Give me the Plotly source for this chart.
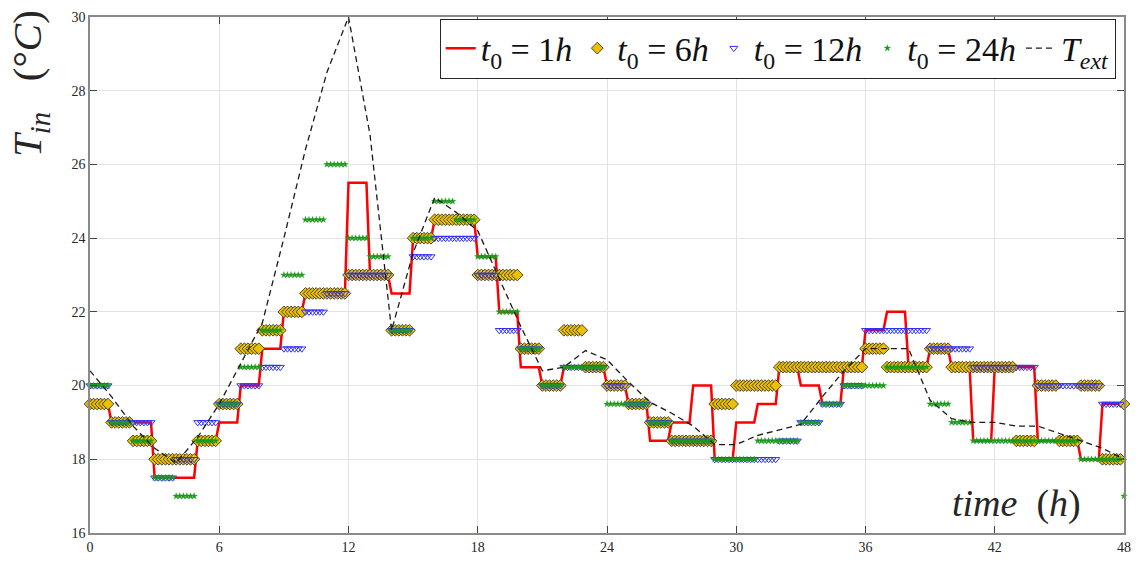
import numpy as np
import plotly.graph_objects as go

# Hourly values (value held during hour h, h = 0..47), last entry = value sampled at t = 48 h
hours = list(range(49))

t0_1h = [19.5, 19, 19, 17.5, 17.5, 18.5, 19, 20, 21, 22,
         22.5, 22.5, 25.5, 23, 22.5, 24, 24.5, 24.5, 23.5, 22,
         20.5, 20, 20.5, 20.5, 20, 19.5, 18.5, 19, 20, 18,
         19, 19.5, 20.5, 20, 19.5, 20.5, 21.5, 22, 20.5, 21,
         20.5, 18.5, 20.5, 20.5, 18.5, 18.5, 18, 19.5, 19.5]

t0_6h = [19.5, 19, 18.5, 18, 18, 18.5, 19.5, 21, 21.5, 22,
         22.5, 22.5, 23, 23, 21.5, 24, 24.5, 24.5, 23, 23,
         21, 20, 21.5, 20.5, 20, 19.5, 19, 18.5, 18.5, 19.5,
         20, 20, 20.5, 20.5, 20.5, 20.5, 21, 20.5, 20.5, 21,
         20.5, 20.5, 20.5, 18.5, 20, 18.5, 20, 18, 19.5]

t0_12h = [20, 19, 19, 17.5, 18, 19, 19.5, 20, 20.5, 21,
          22, 22.5, 23, 23, 21.5, 23.5, 24, 24, 23, 21.5,
          21, 20, 20.5, 20.5, 20, 19.5, 19, 18.5, 18.5, 18,
          18, 18, 18.5, 19, 19.5, 20, 21.5, 21.5, 21.5, 21,
          21, 20.5, 20.5, 20.5, 20, 20, 20, 19.5, None]

t0_24h = [20, 19, 18.5, 17.5, 17, 18.5, 19.5, 20.5, 21.5, 23,
          24.5, 26, 24, 23.5, 21.5, 24, 25, 24.5, 23.5, 22,
          21, 20, 20.5, 20.5, 19.5, 19.5, 19, 18.5, 18.5, 18,
          18, 18.5, 18.5, 19, 19.5, 20, 20, 20.5, 20.5, 19.5,
          19, 18.5, 18.5, 18.5, 18.5, 18.5, 18, 18, 17]

T_ext = [20.4, 19.7, 18.9, 18.3, 17.9, 18.6, 19.5, 20.6, 21.7, 24.0,
         26.4, 28.5, 30.0, 26.8, 21.5, 23.6, 25.1, 24.7, 24.2, 22.9,
         21.6, 20.4, 20.5, 20.95, 20.7, 20.1, 19.55, 19.25, 18.9, 18.4,
         18.4, 18.65, 18.8, 18.95, 19.7, 20.4, 21.0, 21.0, 21.0, 19.6,
         19.1, 19.0, 19.0, 18.9, 18.9, 18.7, 18.5, 18.3, 18.0]

x_ticks = [0, 6, 12, 18, 24, 30, 36, 42, 48]
y_ticks = [16, 18, 20, 22, 24, 26, 28, 30]

SAMPLES_PER_HOUR = 6


def expand(vals):
    """Hold each hourly value over its hour (10-minute samples) + final sample at t=48."""
    t = np.arange(48 * SAMPLES_PER_HOUR + 1) / SAMPLES_PER_HOUR
    y = [v for v in vals[:48] for _ in range(SAMPLES_PER_HOUR)] + [vals[48]]
    return t, y


SERIF = "Liberation Serif, DejaVu Serif, serif"
NB = "&nbsp;"

def lbl(n):
    return f"<i>t</i><sub>0</sub>{NB}={NB}{n}<i>h</i>"

fig = go.Figure()

tx, ty = expand(t0_1h)
fig.add_trace(go.Scatter(x=tx, y=ty, mode="lines", name=lbl(1),
                         line=dict(color="#FF0000", width=2.5)))

tx, ty = expand(t0_6h)
fig.add_trace(go.Scatter(x=tx, y=ty, mode="markers", name=lbl(6),
                         cliponaxis=False,
                         marker=dict(symbol="diamond", size=9, color="#EBC000",
                                     line=dict(color="#202020", width=0.8))))

tx, ty = expand(t0_12h)
fig.add_trace(go.Scatter(x=tx, y=ty, mode="markers", name=lbl(12),
                         cliponaxis=False,
                         marker=dict(symbol="triangle-down-open", size=7, color="#3030FF",
                                     line=dict(color="#3030FF", width=1))))

tx, ty = expand(t0_24h)
fig.add_trace(go.Scatter(x=tx, y=ty, mode="markers", name=lbl(24),
                         cliponaxis=False,
                         marker=dict(symbol="star", size=5, color="#1E9A1E",
                                     line=dict(color="#1E9A1E", width=0.3))))

fig.add_trace(go.Scatter(x=hours, y=T_ext, mode="lines", name="<i>T<sub>ext</sub></i>",
                         line=dict(color="#1A1A1A", width=1.3, dash="6px,4px")))

fig.update_layout(
    width=1141, height=565,
    margin=dict(l=90, r=13, t=10, b=29),
    paper_bgcolor="white", plot_bgcolor="white",
    font=dict(family=SERIF, color="#262626"),
    showlegend=True,
    legend=dict(orientation="h", x=0.992, xanchor="right", y=0.997, yanchor="top",
                bgcolor="white", bordercolor="#262626", borderwidth=1,
                font=dict(family=SERIF, size=34, color="#111"),
                itemsizing="trace", tracegroupgap=0, itemwidth=30),
    xaxis=dict(range=[0, 48], tickvals=x_ticks, ticktext=[str(v) for v in x_ticks],
               showgrid=True, gridcolor="#E3E3E3", gridwidth=1,
               showline=True, linecolor="#8A8A8A", linewidth=1.5, mirror="ticks",
               ticks="inside", ticklen=7, tickcolor="#444",
               tickfont=dict(family=SERIF, size=14, color="#262626"), zeroline=False),
    yaxis=dict(range=[16, 30], tickvals=y_ticks, ticktext=[str(v) for v in y_ticks],
               showgrid=True, gridcolor="#E3E3E3", gridwidth=1,
               showline=True, linecolor="#8A8A8A", linewidth=1.5, mirror="ticks",
               ticks="inside", ticklen=7, tickcolor="#444",
               tickfont=dict(family=SERIF, size=14, color="#262626"), zeroline=False),
    annotations=[
        dict(text=f"<i>T<sub>in</sub></i>{NB}{NB}{NB}(°<i>C</i>)", xref="paper", yref="paper",
             x=-0.058, y=0.87, xanchor="center", yanchor="middle", textangle=-90,
             showarrow=False, font=dict(family=SERIF, size=41, color="#262626")),
        dict(text=f"<i>time</i>{NB}{NB}(<i>h</i>)", xref="paper", yref="paper",
             x=0.896, y=0.058, xanchor="center", yanchor="middle",
             showarrow=False, font=dict(family=SERIF, size=38, color="#262626")),
    ],
)

fig.write_html("out.html", config={"displayModeBar": False},
               post_script="document.body.style.margin='0';document.body.style.overflow='hidden';")
